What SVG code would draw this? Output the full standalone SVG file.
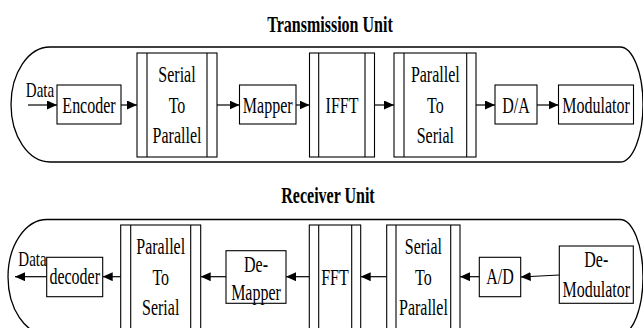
<svg xmlns="http://www.w3.org/2000/svg" width="643" height="328" viewBox="0 0 643 328">
  <style>
    .box { fill: #fff; stroke: #000; stroke-width: 1.1; }
    .bar { stroke: #000; stroke-width: 1.1; fill: none; }
    .unit { fill: none; stroke: #000; stroke-width: 1.3; }
    .wire { stroke: #000; stroke-width: 1.2; fill: none; marker-end: url(#head); }
    text { font-family: "Liberation Serif", "Times New Roman", serif; font-size: 16px; fill: #000; text-anchor: middle; }
    .title { font-weight: bold; }
    .lbl { font-size: 15px; }
  </style>
  <defs>
    <marker id="head" markerUnits="userSpaceOnUse" markerWidth="10" markerHeight="9" refX="10" refY="4.5" orient="auto">
      <path d="M0,0 L10,4.5 L0,9 Z" fill="#000"/>
    </marker>
  </defs>

  <!-- unit outlines -->
  <g id="transmission-unit">
    <path class="unit" d="M50,47 H620 A23,57.5 0 0 1 620,162 H50 A39,57.5 0 0 1 50,47 Z"/>
    <text class="title" transform="translate(330 31.5) scale(1 1.4)">Transmission Unit</text>
  </g>
  <g id="receiver-unit">
    <path class="unit" d="M47,219.5 H620 A23,57.5 0 0 1 620,334.5 H47 A39,57.5 0 0 1 47,219.5 Z"/>
    <text class="title" transform="translate(328 203.3) scale(1 1.4)">Receiver Unit</text>
  </g>

  <!-- connectors -->
  <g id="connectors">
    <path class="wire" d="M28,105 H57"/>
    <path class="wire" d="M121,105 H137"/>
    <path class="wire" d="M217,105 H239.5"/>
    <path class="wire" d="M296,105 H309.5"/>
    <path class="wire" d="M374.5,105 H394"/>
    <path class="wire" d="M476,105 H495"/>
    <path class="wire" d="M537,105 H558.5"/>

    <path class="wire" d="M559.3,275 L520.7,277"/>
    <path class="wire" d="M479.3,276.7 H460"/>
    <path class="wire" d="M386.7,276.7 H360.7"/>
    <path class="wire" d="M309.3,276.7 H286"/>
    <path class="wire" d="M226,276.7 H200.7"/>
    <path class="wire" d="M120.7,276.7 H102.7"/>
    <path class="wire" d="M46.7,276.7 H15"/>
  </g>

  <!-- transmission chain -->
  <g id="data-in">
    <text class="lbl" transform="translate(40 97) scale(1 1.4)">Data</text>
  </g>
  <g id="encoder">
    <rect class="box" x="57" y="85" width="64" height="39"/>
    <text transform="translate(89 113) scale(1 1.4)">Encoder</text>
  </g>
  <g id="serial-to-parallel-tx">
    <rect class="box" x="137" y="53" width="80" height="104"/>
    <path class="bar" d="M147,53 V157 M207,53 V157"/>
    <text transform="translate(177 82) scale(1 1.4)">Serial</text>
    <text transform="translate(177 113) scale(1 1.4)">To</text>
    <text transform="translate(177 143) scale(1 1.4)">Parallel</text>
  </g>
  <g id="mapper">
    <rect class="box" x="239.5" y="85" width="56.5" height="39"/>
    <text transform="translate(267.7 113) scale(1 1.4)">Mapper</text>
  </g>
  <g id="ifft">
    <rect class="box" x="309.5" y="53" width="65" height="104"/>
    <path class="bar" d="M318.7,53 V157 M365,53 V157"/>
    <text transform="translate(342 113) scale(1 1.4)">IFFT</text>
  </g>
  <g id="parallel-to-serial-tx">
    <rect class="box" x="394" y="53" width="82" height="104"/>
    <path class="bar" d="M404,53 V157 M466.7,53 V157"/>
    <text transform="translate(435.3 82) scale(1 1.4)">Parallel</text>
    <text transform="translate(435.3 113) scale(1 1.4)">To</text>
    <text transform="translate(435.3 143) scale(1 1.4)">Serial</text>
  </g>
  <g id="da">
    <rect class="box" x="495" y="85" width="42" height="39"/>
    <text transform="translate(516 113) scale(1 1.4)">D/A</text>
  </g>
  <g id="modulator">
    <rect class="box" x="558.5" y="85" width="75" height="39"/>
    <text transform="translate(596 113) scale(1 1.4)">Modulator</text>
  </g>

  <!-- receiver chain -->
  <g id="data-out">
    <text class="lbl" transform="translate(32.5 266) scale(1 1.4)">Data</text>
  </g>
  <g id="decoder">
    <rect class="box" x="46.7" y="257.3" width="56" height="39.4"/>
    <text transform="translate(74.7 284) scale(1 1.4)">decoder</text>
  </g>
  <g id="parallel-to-serial-rx">
    <rect class="box" x="120.7" y="225" width="80" height="120"/>
    <path class="bar" d="M130.7,225 V345 M190.7,225 V345"/>
    <text transform="translate(160.7 254) scale(1 1.4)">Parallel</text>
    <text transform="translate(160.7 284.5) scale(1 1.4)">To</text>
    <text transform="translate(160.7 315) scale(1 1.4)">Serial</text>
  </g>
  <g id="demapper">
    <rect class="box" x="226" y="250.7" width="60" height="52.6"/>
    <text transform="translate(256 271.7) scale(1 1.4)">De-</text>
    <text transform="translate(256 300) scale(1 1.4)">Mapper</text>
  </g>
  <g id="fft">
    <rect class="box" x="309.3" y="225" width="51.4" height="120"/>
    <path class="bar" d="M318.7,225 V345 M351.7,225 V345"/>
    <text transform="translate(335 285) scale(1 1.4)">FFT</text>
  </g>
  <g id="serial-to-parallel-rx">
    <rect class="box" x="386.7" y="225" width="73.3" height="120"/>
    <path class="bar" d="M396,225 V345 M450.7,225 V345"/>
    <text transform="translate(423.4 254) scale(1 1.4)">Serial</text>
    <text transform="translate(423.4 284.5) scale(1 1.4)">To</text>
    <text transform="translate(423.4 315) scale(1 1.4)">Parallel</text>
  </g>
  <g id="ad">
    <rect class="box" x="479.3" y="257.3" width="41.4" height="39.4"/>
    <text transform="translate(500 284) scale(1 1.4)">A/D</text>
  </g>
  <g id="demodulator">
    <rect class="box" x="559.3" y="246" width="74" height="57.3"/>
    <text transform="translate(596.3 266.7) scale(1 1.4)">De-</text>
    <text transform="translate(596.3 297.3) scale(1 1.4)">Modulator</text>
  </g>
</svg>
